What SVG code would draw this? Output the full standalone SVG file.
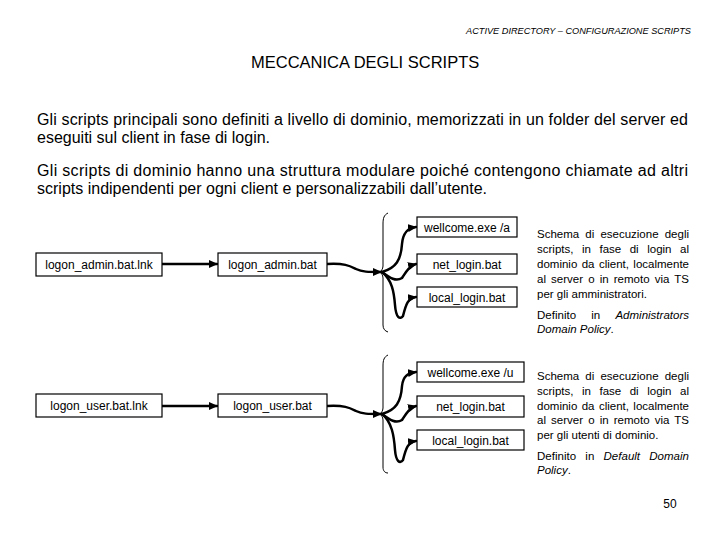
<svg xmlns="http://www.w3.org/2000/svg" width="720" height="540" viewBox="0 0 720 540">
<style>
text{font-family:"Liberation Sans",Arial,sans-serif;fill:#000}
.hdr{font-size:9.2px;font-style:italic}
.title{font-size:16.5px}
.body{font-size:16px}
.lbl{font-size:12px;text-anchor:middle}
.note{font-size:11.5px}
.it{font-style:italic}
.box{fill:#fff;stroke:#000;stroke-width:1.2}
.con{fill:none;stroke:#000;stroke-width:2.5;stroke-linecap:round}
.brace{fill:none;stroke:#000;stroke-width:1}
</style>
<defs>
<marker id="ah" markerUnits="userSpaceOnUse" markerWidth="9" markerHeight="8" refX="8" refY="4" orient="auto">
<path d="M0,0 L9,4 L0,8 z" fill="#000"/>
</marker>
</defs>
<rect width="720" height="540" fill="#fff"/>

<text class="hdr" x="691" y="34" text-anchor="end">ACTIVE DIRECTORY – CONFIGURAZIONE SCRIPTS</text>
<text class="title" x="251" y="68">MECCANICA DEGLI SCRIPTS</text>

<text class="body" x="37" y="125" textLength="651" lengthAdjust="spacing">Gli scripts principali sono definiti a livello di dominio, memorizzati in un folder del server ed</text>
<text class="body" x="37" y="143">eseguiti sul client in fase di login.</text>
<text class="body" x="37" y="176" textLength="651" lengthAdjust="spacing">Gli scripts di dominio hanno una struttura modulare poiché contengono chiamate ad altri</text>
<text class="body" x="37" y="194">scripts indipendenti per ogni client e personalizzabili dall’utente.</text>

<g id="connectors">
<line class="con" x1="162" y1="264" x2="217" y2="264" marker-end="url(#ah)"/>
<path class="con" d="M327,264 C345,263 350,266 356,269 C362,272 368,272 381,272" marker-end="url(#ah)"/>
<path class="con" d="M382,272 C396,268 401,260 402,244 C403,232 408,228 416,227" marker-end="url(#ah)"/>
<path class="con" d="M382,272 C390,278 396,282 402,278 C406,272 409,266 416,264" marker-end="url(#ah)"/>
<path class="con" d="M382,272 C392,280 394,292 395,305 C396,318 400,320 403,316 C406,304 408,298 416,297" marker-end="url(#ah)"/>
<path class="brace" d="M388,213 C384,215 383,218 383,224 L383,266 C383,269 381,271 380,272 C381,273 383,275 383,278 L383,325 C383,329 385,331 388,332"/>

<line class="con" x1="162" y1="406" x2="217" y2="406" marker-end="url(#ah)"/>
<path class="con" d="M327,406 C345,405 350,408 356,411 C362,414 368,414 381,414" marker-end="url(#ah)"/>
<path class="con" d="M382,414 C396,410 401,402 402,386 C403,376 408,373 416,372" marker-end="url(#ah)"/>
<path class="con" d="M382,414 C390,420 396,424 402,420 C406,414 409,408 416,406" marker-end="url(#ah)"/>
<path class="con" d="M382,414 C392,422 394,436 395,450 C396,462 400,464 403,460 C406,448 408,442 416,441" marker-end="url(#ah)"/>
<path class="brace" d="M388,355 C384,357 383,360 383,366 L383,408 C383,411 381,413 380,414 C381,415 383,417 383,420 L383,467 C383,471 385,473 388,473"/>
</g>

<g id="logon_admin_lnk"><rect class="box" x="36" y="253" width="126" height="23"/><text class="lbl" x="99" y="269">logon_admin.bat.lnk</text></g>
<g id="logon_admin_bat"><rect class="box" x="218" y="253" width="109" height="23"/><text class="lbl" x="272.5" y="269">logon_admin.bat</text></g>
<g id="wellcome_a"><rect class="box" x="417" y="217" width="100" height="20"/><text class="lbl" x="467" y="232">wellcome.exe /a</text></g>
<g id="net_login_a"><rect class="box" x="417" y="254" width="100" height="20"/><text class="lbl" x="467" y="269">net_login.bat</text></g>
<g id="local_login_a"><rect class="box" x="417" y="287" width="100" height="20"/><text class="lbl" x="467" y="302">local_login.bat</text></g>

<g id="logon_user_lnk"><rect class="box" x="36" y="394" width="126" height="23"/><text class="lbl" x="99" y="410">logon_user.bat.lnk</text></g>
<g id="logon_user_bat"><rect class="box" x="218" y="394" width="109" height="23"/><text class="lbl" x="272.5" y="410">logon_user.bat</text></g>
<g id="wellcome_u"><rect class="box" x="417" y="362" width="107" height="20"/><text class="lbl" x="470.5" y="377">wellcome.exe /u</text></g>
<g id="net_login_u"><rect class="box" x="417" y="396" width="107" height="21"/><text class="lbl" x="470.5" y="411">net_login.bat</text></g>
<g id="local_login_u"><rect class="box" x="417" y="430" width="107" height="20"/><text class="lbl" x="470.5" y="445">local_login.bat</text></g>

<g id="note_admin">
<text class="note" x="537" y="238" word-spacing="3" textLength="152" lengthAdjust="spacing">Schema di esecuzione degli</text>
<text class="note" x="537" y="253" word-spacing="5.3" textLength="152" lengthAdjust="spacing">scripts, in fase di login al</text>
<text class="note" x="537" y="268" word-spacing="1.2" textLength="152" lengthAdjust="spacing">dominio da client, localmente</text>
<text class="note" x="537" y="283" word-spacing="1.9" textLength="152" lengthAdjust="spacing">al server o in remoto via TS</text>
<text class="note" x="537" y="298">per gli amministratori.</text>
<text class="note" x="537" y="319" word-spacing="12" textLength="152" lengthAdjust="spacing">Definito in <tspan class="it">Administrators</tspan></text>
<text class="note it" x="537" y="333">Domain Policy<tspan font-style="normal">.</tspan></text>
</g>

<g id="note_user">
<text class="note" x="537" y="380" word-spacing="3" textLength="152" lengthAdjust="spacing">Schema di esecuzione degli</text>
<text class="note" x="537" y="395" word-spacing="5.3" textLength="152" lengthAdjust="spacing">scripts, in fase di login al</text>
<text class="note" x="537" y="410" word-spacing="1.2" textLength="152" lengthAdjust="spacing">dominio da client, localmente</text>
<text class="note" x="537" y="424" word-spacing="1.9" textLength="152" lengthAdjust="spacing">al server o in remoto via TS</text>
<text class="note" x="537" y="439">per gli utenti di dominio.</text>
<text class="note" x="537" y="460" word-spacing="6" textLength="152" lengthAdjust="spacing">Definito in <tspan class="it">Default Domain</tspan></text>
<text class="note it" x="537" y="474">Policy<tspan font-style="normal">.</tspan></text>
</g>

<text x="670" y="508" font-size="12" text-anchor="middle">50</text>
</svg>
